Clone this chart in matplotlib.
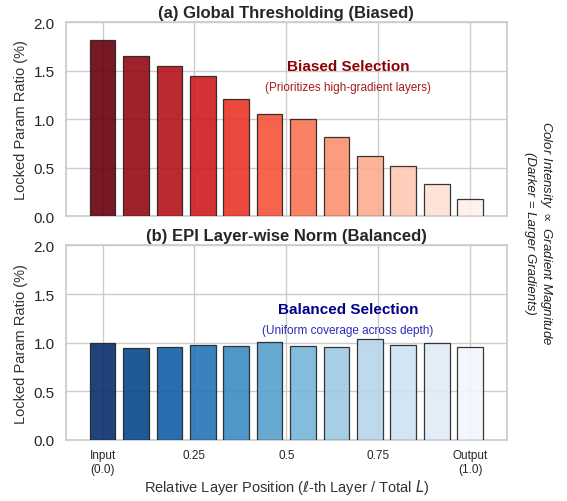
import numpy as np
import matplotlib
matplotlib.use("Agg")
import matplotlib.pyplot as plt
import seaborn as sns

sns.set_theme(style="whitegrid")
plt.rcParams['font.family'] = ['Arial', 'Liberation Sans', 'DejaVu Sans']

positions = np.linspace(0, 1, 12)
global_vals = [1.82, 1.65, 1.55, 1.44, 1.21, 1.05, 1.00, 0.82, 0.62, 0.52, 0.33, 0.175]
epi_vals = [1.00, 0.94, 0.95, 0.98, 0.97, 1.01, 0.97, 0.96, 1.04, 0.98, 1.00, 0.95]
tick_pos = [0, 0.25, 0.5, 0.75, 1.0]
tick_labels = ["Input\n(0.0)", "0.25", "0.5", "0.75", "Output\n(1.0)"]
yticks = [0.0, 0.5, 1.0, 1.5, 2.0]

red_colors = plt.cm.Reds(np.linspace(1.0, 0.03, 12))
blue_colors = plt.cm.Blues(np.linspace(1.0, 0.03, 12))

fig, (ax1, ax2) = plt.subplots(2, 1, figsize=(5.67, 5.02), dpi=100)
fig.subplots_adjust(left=0.116, right=0.894, top=0.954, bottom=0.122, hspace=0.15)

for ax, vals, cols in [(ax1, global_vals, red_colors), (ax2, epi_vals, blue_colors)]:
    ax.bar(positions, vals, width=0.07, color=cols, edgecolor="#222222",
           linewidth=0.9, alpha=0.9, zorder=3)
    ax.set_xlim(-0.1, 1.1)
    ax.set_ylim(0, 2.0)
    ax.set_yticks(yticks)
    ax.set_xticks(tick_pos)
    ax.tick_params(axis='y', labelsize=11, pad=2)
    ax.set_ylabel("Locked Param Ratio (%)", fontsize=10.5, color="#333333")
    for s in ax.spines.values():
        s.set_color("#cccccc")

ax1.set_xticklabels([])
ax2.set_xticklabels(tick_labels, fontsize=8.5)
ax2.tick_params(axis='x', pad=1)
ax1.set_title("(a) Global Thresholding (Biased)", fontsize=12, fontweight="bold", pad=4)
ax2.set_title("(b) EPI Layer-wise Norm (Balanced)", fontsize=12, fontweight="bold", pad=4)
ax2.set_xlabel(r"Relative Layer Position ($\ell$-th Layer / Total $L$)", fontsize=10.5,
               color="#333333", labelpad=1)

ax1.text(0.64, 0.775, "Biased Selection", transform=ax1.transAxes, ha="center", va="center",
         fontsize=11, fontweight="bold", color="#8b0000")
ax1.text(0.64, 0.668, "(Prioritizes high-gradient layers)", transform=ax1.transAxes, ha="center",
         va="center", fontsize=8.5, color="#a51c1c")
ax2.text(0.64, 0.672, "Balanced Selection", transform=ax2.transAxes, ha="center", va="center",
         fontsize=11, fontweight="bold", color="#00008b")
ax2.text(0.64, 0.565, "(Uniform coverage across depth)", transform=ax2.transAxes, ha="center",
         va="center", fontsize=8.5, color="#2a2ab8")

fig.text(0.951, 0.535, "Color Intensity $\\propto$ Gradient Magnitude\n(Darker = Larger Gradients)",
         rotation=-90, ha="center", va="center", fontsize=9.5, style="italic", color="#222222",
         multialignment="center")

fig.savefig("out.png", dpi=100)
